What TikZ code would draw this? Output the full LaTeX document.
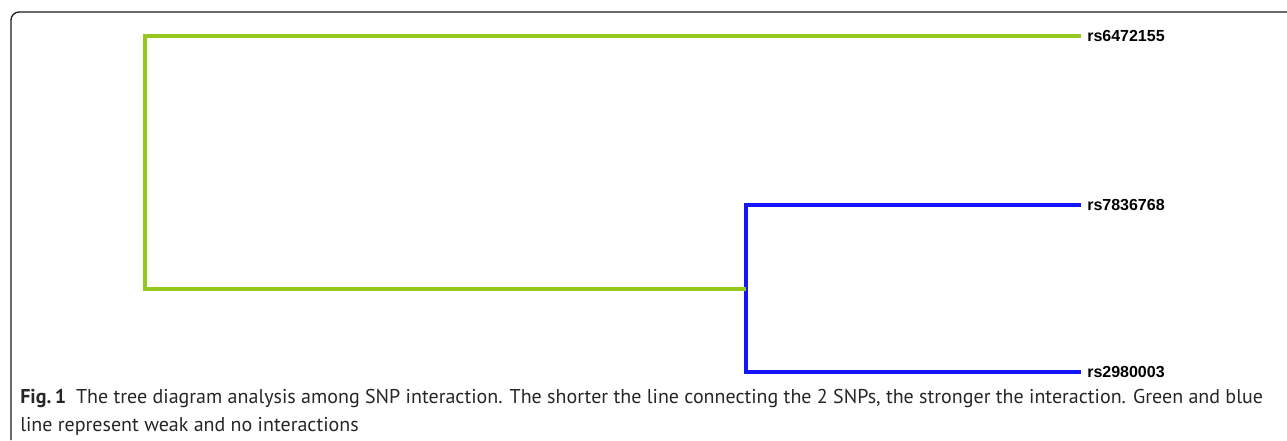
\documentclass[tikz,border=0pt]{standalone}
\usepackage{fontspec}
\setmainfont{PT Sans}
\newfontfamily\leaffont{Liberation Sans}
\usepackage{tikz}
\usetikzlibrary{positioning,calc}
\definecolor{cWeak}{HTML}{95C81E}
\definecolor{cNone}{HTML}{1414FF}
\definecolor{cFrame}{HTML}{1A1A1A}
\tikzset{
  weak/.style   ={draw=cWeak, line width=2.3pt},
  nolink/.style ={draw=cNone, line width=2.3pt},
  leaf/.style   ={anchor=base west, inner sep=0pt, font=\leaffont\bfseries\fontsize{12}{14}\selectfont},
  frame/.style  ={draw=cFrame, line width=1pt, rounded corners=6pt},
  caption/.style={anchor=north west, inner sep=0pt, align=left,
                  font=\fontsize{15}{21}\selectfont, text=black!85},
}
\begin{document}
\begin{tikzpicture}[x=0.75pt, y=-0.75pt]
  \useasboundingbox (0,0) rectangle (1287,440);

  % ---- open frame round the figure ----
  \draw[frame] (11,440) -- (11,12) -- (1287,12);

  % ---- leaves ----
  \coordinate (l1) at (1081,36);
  \coordinate (l2) at (1081,205);
  \coordinate (l3) at (1081,372);
  \node[leaf] (rsA) at ($(l1)+(6,5)$) {rs6472155};
  \node[leaf] (rsB) at ($(l2)+(6,5)$) {rs7836768};
  \node[leaf] (rsC) at ($(l3)+(6,5)$) {rs2980003};

  % ---- inner join (no interaction) ----
  \coordinate (jB) at (746,0);
  \coordinate (jBmid) at (jB |- 0,289);
  \draw[nolink] (l2) -- (jB |- l2) -- (jB |- l3) -- (l3);

  % ---- outer join (weak interaction) ----
  \coordinate (jA) at (145,0);
  \draw[weak] (l1) -- (jA |- l1) -- (jA |- jBmid) -- (jBmid);

  % ---- caption ----
  \node[caption] (cap) at (20,389)
    {\textbf{Fig.\,1}\enspace The tree diagram analysis among SNP interaction. The shorter the line connecting the 2 SNPs, the stronger the interaction. Green and blue\\
     line represent weak and no interactions};

\end{tikzpicture}
\end{document}
